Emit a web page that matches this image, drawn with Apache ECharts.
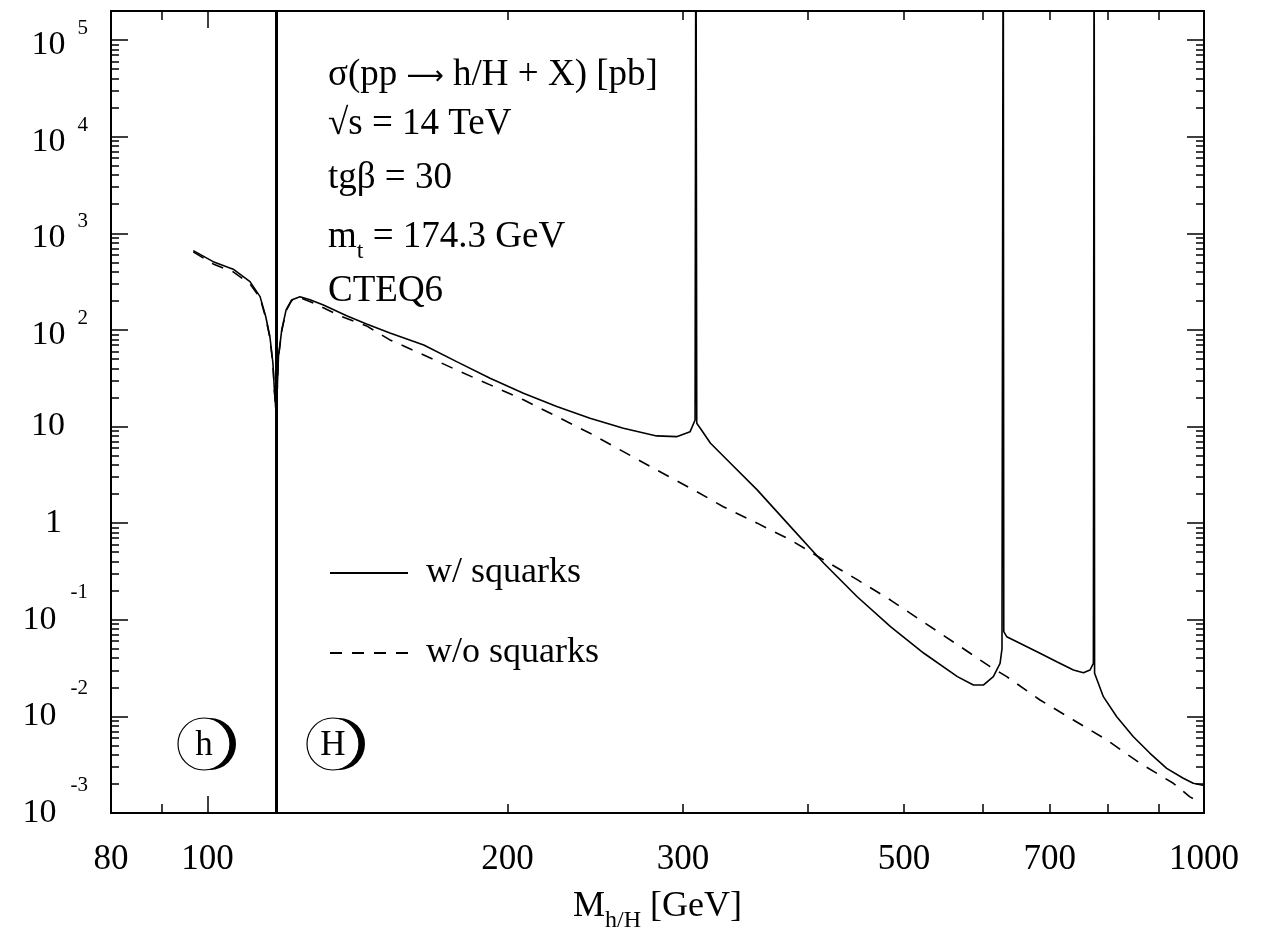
<!DOCTYPE html>
<html><head><meta charset="utf-8">
<script src="https://cdn.jsdelivr.net/npm/echarts@6/dist/echarts.min.js"></script>
<style>html,body{margin:0;padding:0;background:#fff}#c{width:1261px;height:931px}</style>
</head><body><div id="c"></div>
<script>
// ---- data ----
const massWith = [96.75,101.3,106.1,110.3,112.9,114.4,115.5,116.3,116.7,117.2,117.8,118.7,119.9,121.4,123.8,126.7,130.7,137.9,144.4,152.4,164.8,177.8,192.1,207.5,224.1,242.0,261.4,282.3,295.6,305.0,308.5,309.1,309.7,312.1,319.7,334.8,356.1,384.6,415.4,448.7,484.6,523.5,565.6,586.9,600.5,614.6,624.2,627.0,628.8,629.6,633.9,658.8,684.6,711.6,739.5,756.8,768.5,774.4,775.8,776.6,792.5,817.4,849.4,882.7,917.4,953.2,975.5,1000];
const sigmaWith = [662,509,425,316,221,137,85,45.5,23.9,13,52.9,100,161,204,221,205,181,140,115,93.1,69.9,47.0,31.6,22.1,16.1,12.2,9.6,8.0,7.86,8.85,11.7,1e7,10.8,9.67,6.72,4.17,2.21,0.92,0.385,0.173,0.0848,0.045,0.0258,0.0211,0.0211,0.0258,0.0354,0.05,1e7,0.0753,0.0668,0.0548,0.045,0.0368,0.0302,0.0283,0.0302,0.0354,1e7,0.028,0.016,0.00993,0.00616,0.00415,0.0029,0.00229,0.00203,0.00193];
const massWithout = [96.75,101.3,106.1,110.3,112.9,114.4,115.5,116.3,116.7,117.2,117.8,118.7,119.9,121.4,123.8,127.7,135.8,144.4,152.4,164.8,177.8,192.1,207.5,224.1,242.0,261.4,282.3,309.7,329.3,356.1,384.6,415.4,448.7,484.6,523.5,565.6,610.0,633.9,684.6,739.5,798.8,862.7,931.6,967.9,981.5];
const sigmaWithout = [642,482,399,299,214,133,82.5,44,23.5,13,52,98,158,200,216,190,140,110,78.8,55.1,38.5,27.0,18.9,12.7,8.52,5.50,3.55,2.12,1.48,1.00,0.670,0.416,0.26,0.160,0.094,0.0553,0.0327,0.0258,0.01478,0.00918,0.0057,0.00327,0.00203,0.00147,0.00136];
const hHBoundary = [117.2];
const seriesNames = ['w/ squarks', 'w/o squarks'];
const xTickLabels = [80, 100, 200, 300, 500, 700, 1000];
const xTickMajor = [100, 1000];
const xTickMinor = [90, 200, 300, 400, 500, 600, 700, 800, 900];
const yDecades = [1e-3, 1e-2, 1e-1, 1, 10, 100, 1e3, 1e4, 1e5];
const yMinorMult = [2, 3, 4, 5, 6, 7, 8, 9];
const infoLines = ['{n|σ(pp }{a|⟶}{n| h/H + X) [pb]}', '√s = 14 TeV', 'tgβ = 30', '{n|m}{t|t}{n| = 174.3 GeV}', 'CTEQ6'];
const bubbleLabels = ['h', 'H'];

// ---- chart ----
const FONT = '"Liberation Serif", "Times New Roman", serif';
const yMinor = [];
yDecades.forEach(d => yMinorMult.forEach(m => { const v = d * m; if (v <= 2e5) yMinor.push(v); }));
const X_MIN = 80, X_MAX = 1000, Y_MIN = 1e-3, Y_MAX = 2e5;

function yFmt(v) {
  const e = Math.round(Math.log10(v));
  if (e === 1) return '{pl10|10}';
  if (e === 0) return '{pl1|1}';
  if (e > 0) return '{bp|10}{sp|' + e + '}';
  return '{bn|10}{sn|' + e + '}';
}
const tickLine = { color: '#000', width: 1.5 };
function xAxisDef(pos, vals, len, labels) {
  return {
    type: 'log', logBase: 10, min: X_MIN, max: X_MAX, position: pos, gridIndex: 0,
    axisLine: { show: true, lineStyle: { color: '#000', width: 2 } },
    axisTick: { show: true, inside: true, length: len, customValues: vals, lineStyle: tickLine },
    minorTick: { show: false }, splitLine: { show: false },
    axisLabel: labels ? {
      show: true, customValues: xTickLabels, margin: 29, color: '#000',
      fontFamily: FONT, fontSize: 35,
      formatter: v => String(Math.round(v))
    } : { show: false },
    ...(labels ? {
      name: '{m|M}{sub|h/H}{m| [GeV]}', nameLocation: 'middle', nameGap: 76,
      nameTextStyle: { rich: {
        m: { fontFamily: FONT, fontSize: 36, lineHeight: 36, color: '#000', verticalAlign: 'top' },
        sub: { fontFamily: FONT, fontSize: 24, lineHeight: 44, color: '#000', verticalAlign: 'bottom' }
      } }
    } : {})
  };
}
function yAxisDef(pos, vals, len, labels) {
  return {
    type: 'log', logBase: 10, min: Y_MIN, max: Y_MAX, position: pos, gridIndex: 0,
    axisLine: { show: true, lineStyle: { color: '#000', width: 2 } },
    axisTick: { show: true, inside: true, length: len, customValues: vals, lineStyle: tickLine },
    minorTick: { show: false }, splitLine: { show: false },
    axisLabel: labels ? {
      show: true, customValues: yDecades, margin: 23, color: '#000', formatter: yFmt,
      rich: {
        pl10: { fontFamily: FONT, fontSize: 34, padding: [0, 23, 0, 0] },
        pl1: { fontFamily: FONT, fontSize: 34, padding: [0, 26, 0, 0] },
        bp: { fontFamily: FONT, fontSize: 34, lineHeight: 44, verticalAlign: 'bottom' },
        sp: { fontFamily: FONT, fontSize: 21, lineHeight: 21, verticalAlign: 'top', padding: [0, 0, 0, 12] },
        bn: { fontFamily: FONT, fontSize: 34, lineHeight: 76, verticalAlign: 'middle' },
        sn: { fontFamily: FONT, fontSize: 21, lineHeight: 21, verticalAlign: 'top', padding: [0, 0, 0, 14] }
      }
    } : { show: false }
  };
}

const infoY = [75, 124, 178, 237, 291];
const graphics = infoLines.map((t, i) => ({
  type: 'text', x: 328, y: infoY[i], silent: true,
  style: {
    text: t, fill: '#000', font: '37px ' + FONT, verticalAlign: 'middle', align: 'left',
    rich: {
      n: { fontFamily: FONT, fontSize: 37, lineHeight: 37, verticalAlign: 'middle', fill: '#000' },
      a: { fontFamily: '"DejaVu Sans", sans-serif', fontSize: 26, lineHeight: 37, verticalAlign: 'middle', padding: [4, 0, 0, 0], fill: '#000' },
      t: { fontFamily: FONT, fontSize: 24, lineHeight: 54, verticalAlign: 'bottom', fill: '#000' }
    }
  }
}));
const bubbleX = [204, 333];
bubbleLabels.forEach((lab, i) => {
  const cx = bubbleX[i], cy = 744;
  graphics.push({ type: 'circle', silent: true, z: 10, shape: { cx: cx + 6, cy: cy, r: 26 }, style: { fill: '#000' } });
  graphics.push({ type: 'circle', silent: true, z: 11, shape: { cx: cx, cy: cy, r: 26 }, style: { fill: '#fff', stroke: '#000', lineWidth: 1.2 } });
  graphics.push({ type: 'text', silent: true, z: 12, x: cx, y: cy + 2, style: { text: lab, font: '35px ' + FONT, fill: '#000', align: 'center', verticalAlign: 'middle' } });
});

const chart = echarts.init(document.getElementById('c'), null, { renderer: 'canvas' });
chart.setOption({
  animation: false,
  backgroundColor: '#fff',
  grid: { left: 111, right: 57, top: 11, bottom: 118, containLabel: false, outerBoundsMode: 'none' },
  legend: {
    data: seriesNames, orient: 'vertical', left: 324, top: 550, itemWidth: 78, itemHeight: 14, itemGap: 44,
    itemStyle: { opacity: 0 },
    textStyle: { fontFamily: FONT, fontSize: 36, color: '#000', padding: [0, 0, 0, 13] },
    selectedMode: false
  },
  xAxis: [
    xAxisDef('bottom', xTickMajor, 17, true),
    xAxisDef('bottom', xTickMinor, 9, false),
    xAxisDef('top', xTickMajor, 17, false),
    xAxisDef('top', xTickMinor, 9, false)
  ],
  yAxis: [
    yAxisDef('left', yDecades, 17, true),
    yAxisDef('left', yMinor, 8, false),
    yAxisDef('right', yDecades, 17, false),
    yAxisDef('right', yMinor, 8, false)
  ],
  series: [
    {
      name: seriesNames[0], type: 'line', xAxisIndex: 0, yAxisIndex: 0,
      data: massWith.map((m, i) => [m, sigmaWith[i]]),
      symbol: 'none', showSymbol: false, clip: true,
      lineStyle: { color: '#000', width: 1.6, type: 'solid' }, itemStyle: { color: '#000' },
      markLine: {
        silent: true, symbol: 'none', label: { show: false },
        lineStyle: { color: '#000', width: 3, type: 'solid' },
        data: hHBoundary.map(v => ({ xAxis: v }))
      }
    },
    {
      name: seriesNames[1], type: 'line', xAxisIndex: 0, yAxisIndex: 0,
      data: massWithout.map((m, i) => [m, sigmaWithout[i]]),
      symbol: 'none', showSymbol: false, clip: true,
      lineStyle: { color: '#000', width: 1.6, type: [12, 10] }, itemStyle: { color: '#000' }
    }
  ],
  graphic: graphics
});
</script></body></html>
